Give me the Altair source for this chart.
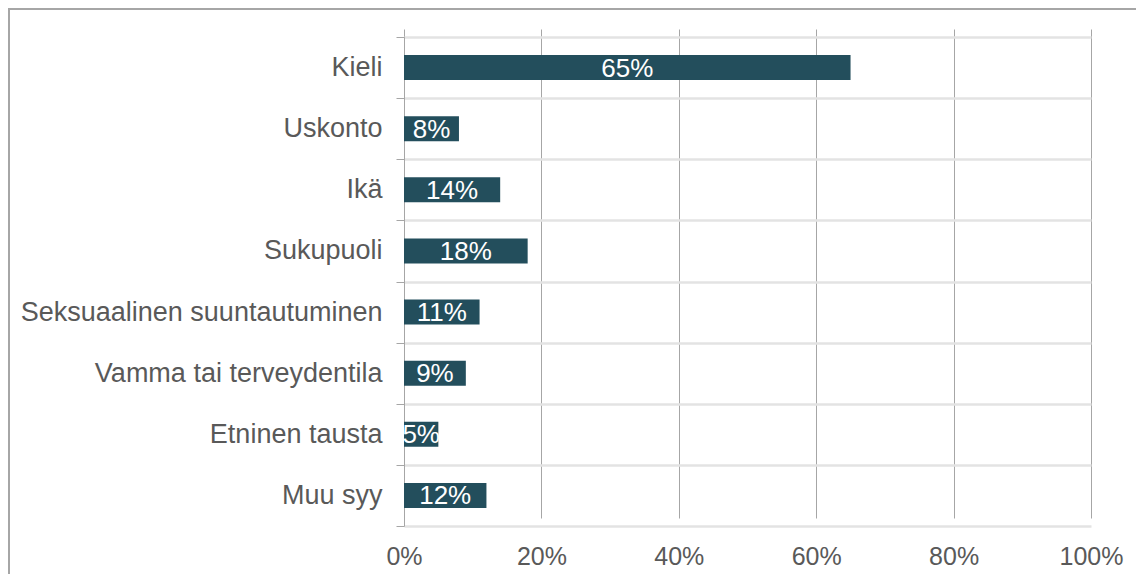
import altair as alt
import pandas as pd

categories = ["Kieli", "Uskonto", "Ikä", "Sukupuoli", "Seksuaalinen suuntautuminen",
              "Vamma tai terveydentila", "Etninen tausta", "Muu syy"]
values = [65, 8, 14, 18, 11, 9, 5, 12]
labels = ["65%", "8%", "14%", "18%", "11%", "9%", "5%", "12%"]

df = pd.DataFrame({"cat": categories, "val": values, "lab": labels})

FONT = "Liberation Sans"
GRAY_TXT = "#595959"

y_enc = alt.Y("cat:N", sort=categories, title=None,
              scale=alt.Scale(range=[8, 497], paddingInner=0, paddingOuter=0),
              axis=alt.Axis(labelFont=FONT, labelFontSize=27, labelColor=GRAY_TXT,
                            labelPadding=14, tickBand="extent", tickSize=8,
                            tickColor="#a6a6a6", domainColor="#a6a6a6",
                            grid=True, gridColor="#e3e3e3", gridWidth=2.5,
                            labelLimit=400))
x_enc = alt.X("val:Q", title=None,
              scale=alt.Scale(domain=[0, 100], nice=False),
              axis=alt.Axis(values=[0, 20, 40, 60, 80, 100],
                            labelExpr="datum.value + '%'",
                            labelFont=FONT, labelFontSize=25, labelColor=GRAY_TXT,
                            labelPadding=18, labelFlush=False, ticks=False, domain=False,
                            grid=True, gridColor="#a6a6a6", gridWidth=1))

bars = alt.Chart(df).mark_bar(color="#234e5c", size=25).encode(x=x_enc, y=y_enc)

text = alt.Chart(df).transform_calculate(half="datum.val / 2").mark_text(
    color="white", font=FONT, fontSize=26, align="center", baseline="middle", dy=1
).encode(x=alt.X("half:Q"), y=alt.Y("cat:N", sort=categories), text="lab:N")

border_df = pd.DataFrame({"k": [0]})
left_border = alt.Chart(border_df).mark_rule(color="#a6a6a6", strokeWidth=2).encode(
    x=alt.value(-395), y=alt.value(-20), y2=alt.value(600))
top_border = alt.Chart(border_df).mark_rule(color="#a6a6a6", strokeWidth=2).encode(
    x=alt.value(-396), x2=alt.value(800), y=alt.value(-20))

chart = alt.layer(bars, text, left_border, top_border).properties(
    width=687, height=497,
    autosize=alt.AutoSizeParams(type="none"),
    padding={"left": 396, "top": 21, "right": 45, "bottom": 48},
).configure_view(stroke=None)

chart.save("out.html", embed_options={"renderer": "svg", "actions": False})
